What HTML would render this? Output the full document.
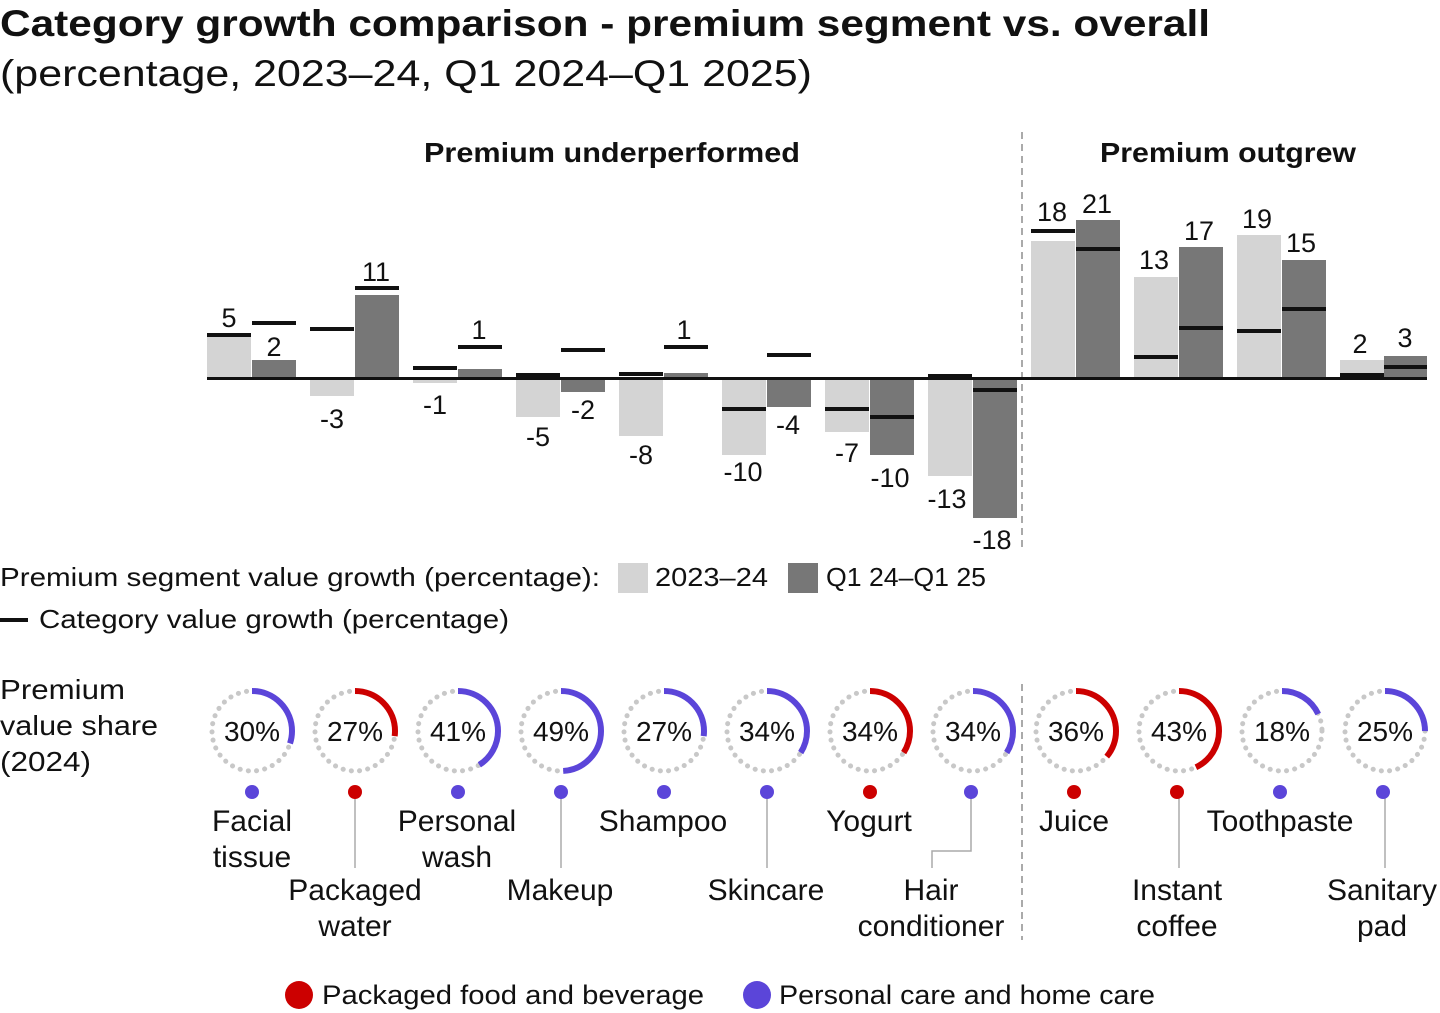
<!DOCTYPE html>
<html><head><meta charset="utf-8"><style>
html,body{margin:0;padding:0;background:#fff}
svg{display:block}
text{font-family:"Liberation Sans",sans-serif;fill:#111}
</style></head><body>
<svg width="1440" height="1013" viewBox="0 0 1440 1013" xmlns="http://www.w3.org/2000/svg">
<text x="0" y="36" font-size="37" font-weight="bold" textLength="1210" lengthAdjust="spacingAndGlyphs">Category growth comparison - premium segment vs. overall</text>
<text x="0" y="86" font-size="37" textLength="812" lengthAdjust="spacingAndGlyphs">(percentage, 2023–24, Q1 2024–Q1 2025)</text>
<text x="612" y="162" font-size="28" font-weight="bold" text-anchor="middle" textLength="376" lengthAdjust="spacingAndGlyphs">Premium underperformed</text>
<text x="1228" y="162" font-size="28" font-weight="bold" text-anchor="middle" textLength="256" lengthAdjust="spacingAndGlyphs">Premium outgrew</text>
<line x1="1022" y1="132" x2="1022" y2="552" stroke="#aaa" stroke-width="2" stroke-dasharray="7,5"/>
<line x1="1022" y1="684" x2="1022" y2="940" stroke="#aaa" stroke-width="2" stroke-dasharray="7,5"/>
<g fill="#d4d4d4">
<rect x="207" y="337" width="44" height="42"/>
<rect x="310" y="379" width="44" height="17"/>
<rect x="413" y="379" width="44" height="4"/>
<rect x="516" y="379" width="44" height="38"/>
<rect x="619" y="379" width="44" height="57"/>
<rect x="722" y="379" width="44" height="76"/>
<rect x="825" y="379" width="44" height="53"/>
<rect x="928" y="379" width="44" height="97"/>
<rect x="1031" y="241" width="44" height="138"/>
<rect x="1134" y="277" width="44" height="102"/>
<rect x="1237" y="235" width="44" height="144"/>
<rect x="1340" y="360" width="44" height="19"/>
</g>
<g fill="#777">
<rect x="252" y="360" width="44" height="19"/>
<rect x="355" y="295" width="44" height="84"/>
<rect x="458" y="369" width="44" height="10"/>
<rect x="561" y="379" width="44" height="13"/>
<rect x="664" y="373" width="44" height="6"/>
<rect x="767" y="379" width="44" height="28"/>
<rect x="870" y="379" width="44" height="76"/>
<rect x="973" y="379" width="44" height="139"/>
<rect x="1076" y="220" width="44" height="159"/>
<rect x="1179" y="247" width="44" height="132"/>
<rect x="1282" y="260" width="44" height="119"/>
<rect x="1384" y="356" width="43" height="23"/>
</g>
<rect x="207" y="377" width="1220" height="3" fill="#111"/>
<g fill="#111">
<rect x="207" y="333" width="44" height="4"/><rect x="252" y="321" width="44" height="4"/>
<rect x="310" y="327" width="44" height="4"/><rect x="355" y="286" width="44" height="4"/>
<rect x="413" y="366" width="44" height="4"/><rect x="458" y="345" width="44" height="4"/>
<rect x="516" y="373" width="44" height="4"/><rect x="561" y="348" width="44" height="4"/>
<rect x="619" y="372" width="44" height="4"/><rect x="664" y="345" width="44" height="4"/>
<rect x="722" y="407" width="44" height="4"/><rect x="767" y="353" width="44" height="4"/>
<rect x="825" y="407" width="44" height="4"/><rect x="870" y="415" width="44" height="4"/>
<rect x="928" y="374" width="44" height="4"/><rect x="973" y="388" width="44" height="4"/>
<rect x="1031" y="229" width="44" height="4"/><rect x="1076" y="247" width="44" height="4"/>
<rect x="1134" y="355" width="44" height="4"/><rect x="1179" y="326" width="44" height="4"/>
<rect x="1237" y="329" width="44" height="4"/><rect x="1282" y="307" width="44" height="4"/>
<rect x="1340" y="373" width="44" height="4"/><rect x="1384" y="365" width="43" height="4"/>
</g>
<g font-size="27" text-anchor="middle">
<text x="229" y="327">5</text><text x="274" y="356">2</text>
<text x="376" y="281">11</text><text x="479" y="339">1</text>
<text x="684" y="339">1</text>
<text x="1052" y="221">18</text><text x="1097" y="213">21</text>
<text x="1154" y="269">13</text><text x="1199" y="240">17</text>
<text x="1257" y="228">19</text><text x="1301" y="252">15</text>
<text x="1360" y="353">2</text><text x="1405" y="347">3</text>
<text x="332" y="428">-3</text><text x="435" y="414">-1</text>
<text x="538" y="446">-5</text><text x="583" y="419">-2</text>
<text x="641" y="464">-8</text><text x="743" y="481">-10</text>
<text x="788" y="434">-4</text><text x="847" y="462">-7</text>
<text x="890" y="487">-10</text><text x="947" y="508">-13</text>
<text x="992" y="549">-18</text>
</g>
<g font-size="26">
<text x="0" y="586" textLength="600" lengthAdjust="spacingAndGlyphs">Premium segment value growth (percentage):</text>
<rect x="618" y="563" width="30" height="30" fill="#d4d4d4"/>
<text x="655" y="586" textLength="113" lengthAdjust="spacingAndGlyphs">2023–24</text>
<rect x="788" y="563" width="30" height="30" fill="#777"/>
<text x="826" y="586" textLength="160" lengthAdjust="spacingAndGlyphs">Q1 24–Q1 25</text>
<rect x="0" y="618" width="28" height="4" fill="#111"/>
<text x="39" y="628" textLength="470" lengthAdjust="spacingAndGlyphs">Category value growth (percentage)</text>
</g>
<g font-size="28">
<text x="0" y="699" textLength="125" lengthAdjust="spacingAndGlyphs">Premium</text>
<text x="0" y="735" textLength="158" lengthAdjust="spacingAndGlyphs">value share</text>
<text x="0" y="771" textLength="91" lengthAdjust="spacingAndGlyphs">(2024)</text>
</g>
<g fill="none" stroke-width="6">
<g stroke="#c8c8c8" stroke-width="5" stroke-dasharray="0.1,8.2" stroke-linecap="round">
<circle cx="252" cy="731" r="40"/><circle cx="355" cy="731" r="40"/><circle cx="458" cy="731" r="40"/><circle cx="561" cy="731" r="40"/>
<circle cx="664" cy="731" r="40"/><circle cx="767" cy="731" r="40"/><circle cx="870" cy="731" r="40"/><circle cx="973" cy="731" r="40"/>
<circle cx="1076" cy="731" r="40"/><circle cx="1179" cy="731" r="40"/><circle cx="1282" cy="731" r="40"/><circle cx="1385" cy="731" r="40"/>
</g>
<circle cx="252" cy="731" r="40" stroke="#5b45d9" stroke-dasharray="75.4 300" transform="rotate(-90 252 731)"/>
<circle cx="355" cy="731" r="40" stroke="#cc0000" stroke-dasharray="67.9 300" transform="rotate(-90 355 731)"/>
<circle cx="458" cy="731" r="40" stroke="#5b45d9" stroke-dasharray="103 300" transform="rotate(-90 458 731)"/>
<circle cx="561" cy="731" r="40" stroke="#5b45d9" stroke-dasharray="123.2 300" transform="rotate(-90 561 731)"/>
<circle cx="664" cy="731" r="40" stroke="#5b45d9" stroke-dasharray="67.9 300" transform="rotate(-90 664 731)"/>
<circle cx="767" cy="731" r="40" stroke="#5b45d9" stroke-dasharray="85.5 300" transform="rotate(-90 767 731)"/>
<circle cx="870" cy="731" r="40" stroke="#cc0000" stroke-dasharray="85.5 300" transform="rotate(-90 870 731)"/>
<circle cx="973" cy="731" r="40" stroke="#5b45d9" stroke-dasharray="85.5 300" transform="rotate(-90 973 731)"/>
<circle cx="1076" cy="731" r="40" stroke="#cc0000" stroke-dasharray="90.5 300" transform="rotate(-90 1076 731)"/>
<circle cx="1179" cy="731" r="40" stroke="#cc0000" stroke-dasharray="108 300" transform="rotate(-90 1179 731)"/>
<circle cx="1282" cy="731" r="40" stroke="#5b45d9" stroke-dasharray="45.2 300" transform="rotate(-90 1282 731)"/>
<circle cx="1385" cy="731" r="40" stroke="#5b45d9" stroke-dasharray="62.8 300" transform="rotate(-90 1385 731)"/>
</g>
<g font-size="28" text-anchor="middle">
<text x="252" y="741">30%</text><text x="355" y="741">27%</text><text x="458" y="741">41%</text><text x="561" y="741">49%</text>
<text x="664" y="741">27%</text><text x="767" y="741">34%</text><text x="870" y="741">34%</text><text x="973" y="741">34%</text>
<text x="1076" y="741">36%</text><text x="1179" y="741">43%</text><text x="1282" y="741">18%</text><text x="1385" y="741">25%</text>
</g>
<g stroke="#aaa" stroke-width="1.5" fill="none">
<line x1="355" y1="798" x2="355" y2="868"/><line x1="561" y1="798" x2="561" y2="868"/>
<line x1="767" y1="798" x2="767" y2="868"/><line x1="1179" y1="798" x2="1179" y2="868"/>
<line x1="1385" y1="798" x2="1385" y2="868"/>
<polyline points="971,798 971,851 932,851 932,868"/>
</g>
<g>
<circle cx="252" cy="792" r="7" fill="#5b45d9"/><circle cx="355" cy="792" r="7" fill="#cc0000"/>
<circle cx="458" cy="792" r="7" fill="#5b45d9"/><circle cx="561" cy="792" r="7" fill="#5b45d9"/>
<circle cx="664" cy="792" r="7" fill="#5b45d9"/><circle cx="767" cy="792" r="7" fill="#5b45d9"/>
<circle cx="870" cy="792" r="7" fill="#cc0000"/><circle cx="971" cy="792" r="7" fill="#5b45d9"/>
<circle cx="1074" cy="792" r="7" fill="#cc0000"/><circle cx="1177" cy="792" r="7" fill="#cc0000"/>
<circle cx="1280" cy="792" r="7" fill="#5b45d9"/><circle cx="1383" cy="792" r="7" fill="#5b45d9"/>
</g>
<g font-size="30" text-anchor="middle">
<text x="252" y="831">Facial</text><text x="252" y="867">tissue</text>
<text x="355" y="900">Packaged</text><text x="355" y="936">water</text>
<text x="457" y="831">Personal</text><text x="457" y="867">wash</text>
<text x="560" y="900">Makeup</text>
<text x="663" y="831">Shampoo</text>
<text x="766" y="900">Skincare</text>
<text x="869" y="831">Yogurt</text>
<text x="931" y="900">Hair</text><text x="931" y="936">conditioner</text>
<text x="1074" y="831">Juice</text>
<text x="1177" y="900">Instant</text><text x="1177" y="936">coffee</text>
<text x="1280" y="831">Toothpaste</text>
<text x="1382" y="900">Sanitary</text><text x="1382" y="936">pad</text>
</g>
<circle cx="299" cy="995" r="14" fill="#cc0000"/>
<text x="322" y="1004" font-size="27" textLength="382" lengthAdjust="spacingAndGlyphs">Packaged food and beverage</text>
<circle cx="757" cy="995" r="14" fill="#5b45d9"/>
<text x="779" y="1004" font-size="27" textLength="376" lengthAdjust="spacingAndGlyphs">Personal care and home care</text>
</svg>
</body></html>
